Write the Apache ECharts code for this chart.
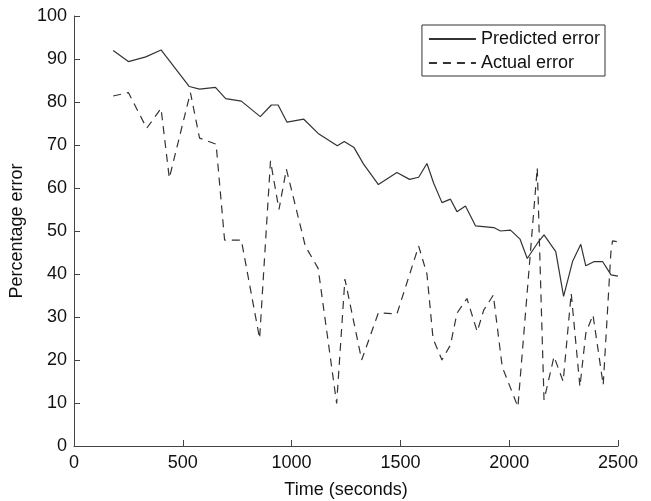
<!DOCTYPE html>
<html>
<head>
<meta charset="utf-8">
<script src="https://cdn.jsdelivr.net/npm/echarts@6/dist/echarts.min.js"></script>
<style>
  html, body { margin: 0; padding: 0; background: #fff; }
  #chart { width: 651px; height: 501px; }
</style>
</head>
<body>
<div id="chart"></div>
<script>
// predicted error (solid line)
const predTime = [180, 250, 330, 400, 530, 577, 650, 697, 769, 856, 907, 938, 979, 1056, 1122, 1210, 1242, 1287, 1330, 1399, 1484, 1542, 1584, 1622, 1653, 1691, 1730, 1760, 1799, 1845, 1929, 1960, 2006, 2050, 2083, 2129, 2160, 2214, 2250, 2291, 2329, 2352, 2391, 2429, 2468, 2500];
const predError = [92, 89.4, 90.5, 92.1, 83.6, 83.0, 83.4, 80.8, 80.2, 76.6, 79.3, 79.3, 75.3, 76.0, 72.7, 69.8, 70.8, 69.4, 65.6, 60.8, 63.6, 62.0, 62.5, 65.7, 61.1, 56.6, 57.4, 54.5, 55.8, 51.2, 50.8, 50.0, 50.2, 48.1, 43.6, 47.1, 49.1, 45.2, 34.8, 42.9, 46.9, 41.9, 42.9, 42.9, 39.8, 39.5];

// actual error (dashed line)
const actTime = [180, 250, 334, 400, 438, 535, 577, 653, 692, 769, 853, 903, 942, 976, 1063, 1122, 1207, 1245, 1322, 1399, 1484, 1584, 1622, 1650, 1691, 1730, 1760, 1806, 1853, 1883, 1927, 1968, 2040, 2129, 2160, 2206, 2248, 2285, 2325, 2352, 2385, 2432, 2468, 2475, 2500];
const actError = [81.4, 82.2, 73.9, 78.5, 62.3, 82.2, 71.6, 70.2, 47.9, 47.9, 25.0, 66.3, 55.0, 64.4, 46.5, 41.3, 9.9, 38.8, 20.0, 31.0, 30.7, 46.5, 40.0, 25.0, 20.0, 23.5, 30.9, 34.3, 26.6, 31.6, 35.1, 18.4, 9.1, 64.7, 10.7, 20.8, 15.0, 35.5, 13.8, 26.2, 30.5, 14.2, 45.6, 47.7, 47.5];

const xTicks = [0, 500, 1000, 1500, 2000, 2500];
const yTicks = [0, 10, 20, 30, 40, 50, 60, 70, 80, 90, 100];

function pairs(xs, ys) {
    return xs.map(function (x, i) { return [x, ys[i]]; });
}

const font = '"Liberation Sans", Arial, sans-serif';
const chart = echarts.init(document.getElementById('chart'));
const option = {
    animation: false,
    color: ['#333', '#333'],
    grid: { left: 74, right: 33, top: 16, bottom: 55, outerBoundsMode: 'none' },
    legend: {
        orient: 'vertical',
        right: 46,
        top: 25,
        align: 'left',
        padding: [5, 5, 4, 6],
        itemGap: 6,
        itemWidth: 47,
        itemHeight: 18,
        borderColor: '#333',
        borderWidth: 1,
        itemStyle: { opacity: 0 },
        textStyle: { fontFamily: font, fontSize: 18, color: '#111', lineHeight: 18 },
        data: ['Predicted error', 'Actual error']
    },
    xAxis: {
        type: 'value',
        min: xTicks[0],
        max: xTicks[xTicks.length - 1],
        interval: 500,
        name: 'Time (seconds)',
        nameLocation: 'middle',
        nameGap: 35,
        nameTextStyle: { fontFamily: font, fontSize: 18, color: '#111' },
        axisLine: { lineStyle: { color: '#444', width: 1 } },
        axisTick: { inside: true, length: 6, lineStyle: { color: '#444' } },
        axisLabel: { fontFamily: font, fontSize: 18, color: '#111', margin: 8, formatter: function (v) { return String(v); } },
        splitLine: { show: false }
    },
    yAxis: {
        type: 'value',
        min: yTicks[0],
        max: yTicks[yTicks.length - 1],
        interval: 10,
        name: 'Percentage error',
        nameLocation: 'middle',
        nameGap: 45,
        nameTextStyle: { fontFamily: font, fontSize: 18, color: '#111' },
        axisLine: { show: true, lineStyle: { color: '#444', width: 1 } },
        axisTick: { show: true, inside: true, length: 6, lineStyle: { color: '#444' } },
        axisLabel: { fontFamily: font, fontSize: 18, color: '#111', margin: 7, formatter: function (v) { return String(v); } },
        splitLine: { show: false }
    },
    series: [{
        name: 'Predicted error',
        type: 'line',
        symbol: 'none',
        data: pairs(predTime, predError),
        itemStyle: { color: '#333' },
        lineStyle: { color: '#333', width: 1.2 }
    }, {
        name: 'Actual error',
        type: 'line',
        symbol: 'none',
        data: pairs(actTime, actError),
        itemStyle: { color: '#333' },
        lineStyle: { color: '#333', width: 1.2, type: [8, 6] }
    }]
};
chart.setOption(option);
</script>
</body>
</html>
